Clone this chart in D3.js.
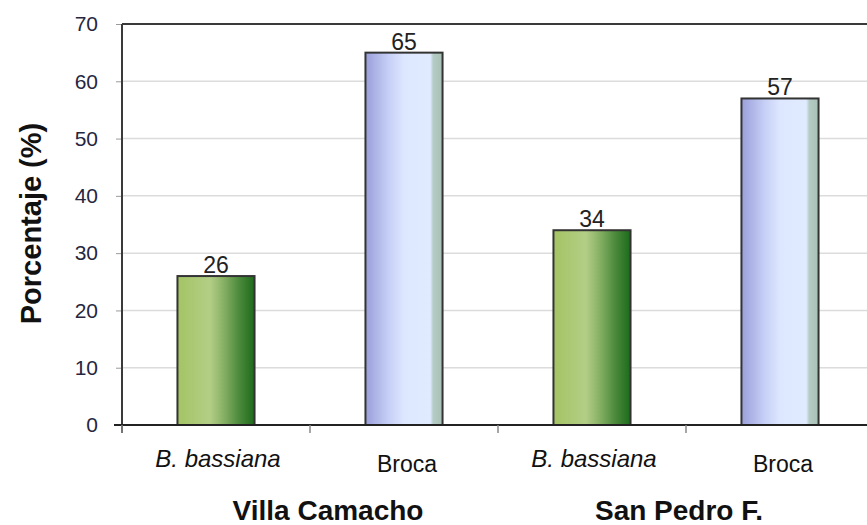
<!DOCTYPE html>
<html>
<head>
<meta charset="utf-8">
<script src="https://cdn.jsdelivr.net/npm/d3@7"></script>
<style>
  body { margin: 0; background: #fff; }
  text { font-family: "Liberation Sans", Arial, sans-serif; }
</style>
</head>
<body>
<div id="chart"></div>
<script>
// chart values
const groups = ["Villa Camacho", "San Pedro F."];
const categories = ["B. bassiana", "Broca", "B. bassiana", "Broca"];
const kinds = ["bass", "broca", "bass", "broca"];
const values = [26, 65, 34, 57];
const yTicks = [0, 10, 20, 30, 40, 50, 60, 70];

const width = 867;
const height = 525;
const margin = {left: 122, right: -7, top: 24, bottom: 100};

const svg = d3.select("#chart")
  .append("svg")
  .attr("width", width)
  .attr("height", height);

// gradients for the bars
const defs = svg.append("defs");
const gGreen = defs.append("linearGradient").attr("id", "grad-bass");
[[0, "#a3c464"], [0.42, "#b3ce86"], [0.55, "#94b96e"], [0.8, "#4c8a3c"], [1, "#1c6a1c"]]
  .forEach(s => gGreen.append("stop").attr("offset", s[0]).attr("stop-color", s[1]));
const gBlue = defs.append("linearGradient").attr("id", "grad-broca");
[[0, "#9a9fda"], [0.3, "#c6cff6"], [0.5, "#dde7ff"], [0.84, "#e0ebff"], [0.88, "#b4cbc4"], [1, "#a9c0b6"]]
  .forEach(s => gBlue.append("stop").attr("offset", s[0]).attr("stop-color", s[1]));

// scales
const xScale = d3.scaleBand()
  .domain(d3.range(categories.length))
  .range([margin.left, width - margin.right])
  .paddingInner(0.59)
  .paddingOuter(0.295);

const yScale = d3.scaleLinear()
  .domain([0, 70])
  .range([height - margin.bottom, margin.top]);

const x0 = margin.left;
const x1 = width + 5;
const y0 = yScale(0);

// gridlines
svg.append("g")
  .selectAll("line")
  .data(yTicks.filter(d => d > 0 && d < 70))
  .enter()
  .append("line")
    .attr("x1", x0).attr("x2", x1)
    .attr("y1", d => yScale(d)).attr("y2", d => yScale(d))
    .attr("stroke", "#dcdcdc")
    .attr("stroke-width", 1.5);

// top border of plot
svg.append("line")
  .attr("x1", x0).attr("x2", x1)
  .attr("y1", yScale(70)).attr("y2", yScale(70))
  .attr("stroke", "#3a3a3a")
  .attr("stroke-width", 2);

// y axis
const yAxis = svg.append("g")
  .attr("transform", `translate(${x0},0)`)
  .call(d3.axisLeft(yScale).tickValues(yTicks).tickSize(6).tickPadding(18));
yAxis.select(".domain").remove();
yAxis.selectAll(".tick line").attr("stroke", "#9a9a9a");
yAxis.selectAll(".tick text")
  .attr("font-size", "21px")
  .attr("fill", "#262640")
  .attr("font-family", "'Liberation Sans', Arial, sans-serif");
svg.append("line")
  .attr("x1", x0).attr("x2", x0)
  .attr("y1", yScale(70)).attr("y2", y0 + 8)
  .attr("stroke", "#3a3a3a")
  .attr("stroke-width", 2);

// bars
svg.selectAll(".bar")
  .data(values)
  .enter()
  .append("rect")
    .attr("class", "bar")
    .attr("x", (d, i) => xScale(i))
    .attr("y", d => yScale(d))
    .attr("width", xScale.bandwidth())
    .attr("height", d => y0 - yScale(d))
    .attr("fill", (d, i) => `url(#grad-${kinds[i]})`)
    .attr("stroke", "#333")
    .attr("stroke-width", 2);

// value labels
svg.selectAll(".val")
  .data(values)
  .enter()
  .append("text")
    .attr("class", "val")
    .attr("x", (d, i) => xScale(i) + xScale.bandwidth() / 2)
    .attr("y", d => yScale(d) - 3)
    .attr("text-anchor", "middle")
    .attr("font-size", "23px")
    .attr("fill", "#222")
    .text(d => d);

// x axis line and ticks at band boundaries
const step = xScale.step();
const bounds = d3.range(categories.length + 1).map(i => x0 + i * step);
svg.append("line")
  .attr("x1", x0 - 8).attr("x2", x1)
  .attr("y1", y0).attr("y2", y0)
  .attr("stroke", "#222")
  .attr("stroke-width", 2);
svg.append("g")
  .selectAll("line")
  .data(bounds)
  .enter()
  .append("line")
    .attr("x1", d => d).attr("x2", d => d)
    .attr("y1", y0).attr("y2", y0 + 8)
    .attr("stroke", "#888")
    .attr("stroke-width", 1.5);

// category labels
svg.selectAll(".cat")
  .data(categories)
  .enter()
  .append("text")
    .attr("class", "cat")
    .attr("x", (d, i) => xScale(i) + xScale.bandwidth() / 2 + (kinds[i] === "bass" ? 2 : 3))
    .attr("y", (d, i) => kinds[i] === "bass" ? y0 + 42 : y0 + 47)
    .attr("text-anchor", "middle")
    .attr("font-size", (d, i) => kinds[i] === "bass" ? "24px" : "23px")
    .attr("font-style", (d, i) => kinds[i] === "bass" ? "italic" : "normal")
    .attr("fill", "#111")
    .text(d => d);

// group labels
svg.selectAll(".grp")
  .data(groups)
  .enter()
  .append("text")
    .attr("class", "grp")
    .attr("x", (d, i) => x0 + (2 * i + 1) * step + (i === 0 ? 18 : -7))
    .attr("y", y0 + 95)
    .attr("text-anchor", "middle")
    .attr("font-size", "28px")
    .attr("font-weight", "bold")
    .attr("fill", "#111")
    .text(d => d);

// y title
svg.append("text")
  .attr("transform", `translate(41, ${(yScale(70) + y0) / 2 - 1}) rotate(-90)`)
  .attr("text-anchor", "middle")
  .attr("font-size", "29px")
  .attr("font-weight", "bold")
  .attr("fill", "#111")
  .text("Porcentaje (%)");
</script>
</body>
</html>
